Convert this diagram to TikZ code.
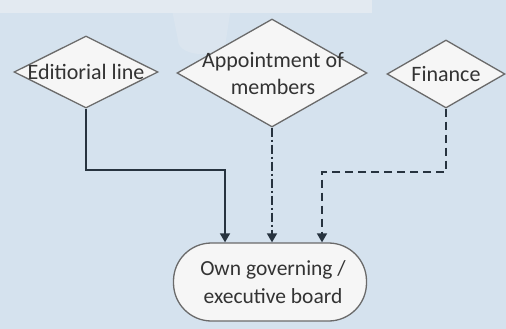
\documentclass[tikz,border=0pt]{standalone}
\usepackage{fontspec}
\setmainfont{Carlito}
\usetikzlibrary{shapes.geometric,arrows.meta,calc}
\definecolor{bgblue}{HTML}{D5E2EE}
\definecolor{bandcol}{HTML}{E3EAF1}
\definecolor{shapefill}{HTML}{F6F6F6}
\definecolor{shapeline}{HTML}{6A6A6A}
\definecolor{linecol}{HTML}{27333F}
\definecolor{txtcol}{HTML}{333333}
\tikzset{
  dia/.style={shape=diamond, draw=shapeline, fill=shapefill, line width=1.3pt, inner sep=0pt},
  board/.style={shape=rectangle, rounded corners=38pt, draw=shapeline, fill=shapefill, line width=1.3pt, minimum width=193pt, minimum height=78pt},
  lbl/.style={text=txtcol, font=\fontsize{22}{27}\selectfont, align=center, inner sep=0pt},
  boardlbl/.style={text=txtcol, font=\fontsize{21.5}{28}\selectfont, align=center, inner sep=0pt},
  conn/.style={draw=linecol, line width=1.7pt, -{Triangle[width=10pt,length=9pt]}},
  dashdotconn/.style={conn, dash pattern=on 9pt off 3pt on 2pt off 3pt},
  dashconn/.style={conn, dash pattern=on 8pt off 5pt}
}
\begin{document}
\begin{tikzpicture}[x=1pt,y=-1pt]
\useasboundingbox (0,0) rectangle (506,329);
\fill[bgblue] (0,0) rectangle (506,329);
% faint band and glow at the top
\fill[bandcol] (0,0) rectangle (372,13);
\fill[bandcol, opacity=0.45] (170,0) -- (232,0) -- (226,40) to[out=-90,in=-90] (178,40) -- cycle;

\node[dia, minimum width=144pt, minimum height=72pt] (d1) at (86,72) {};
\node[lbl] (t1) at (d1) {Editiorial line};
\node[dia, minimum width=190pt, minimum height=108pt] (d2) at (272,73) {};
\node[lbl] (t2) at (273,74) {Appointment of\\members};
\node[dia, minimum width=118pt, minimum height=68pt] (d3) at (446,74) {};
\node[lbl] (t3) at (d3) {Finance};

\node[board] (b) at (270,282) {};
\node[boardlbl] (tb) at (273,282) {Own governing /\\executive board};

\draw[conn] (d1.south) -- ++(0,61) -| ($(b.north)+(-45,0)$);
\draw[dashdotconn] (d2.south) -- (d2.south |- b.north);
\draw[dashconn] (d3.south) -- ++(0,63) -| ($(b.north)+(52,0)$);
\end{tikzpicture}
\end{document}
